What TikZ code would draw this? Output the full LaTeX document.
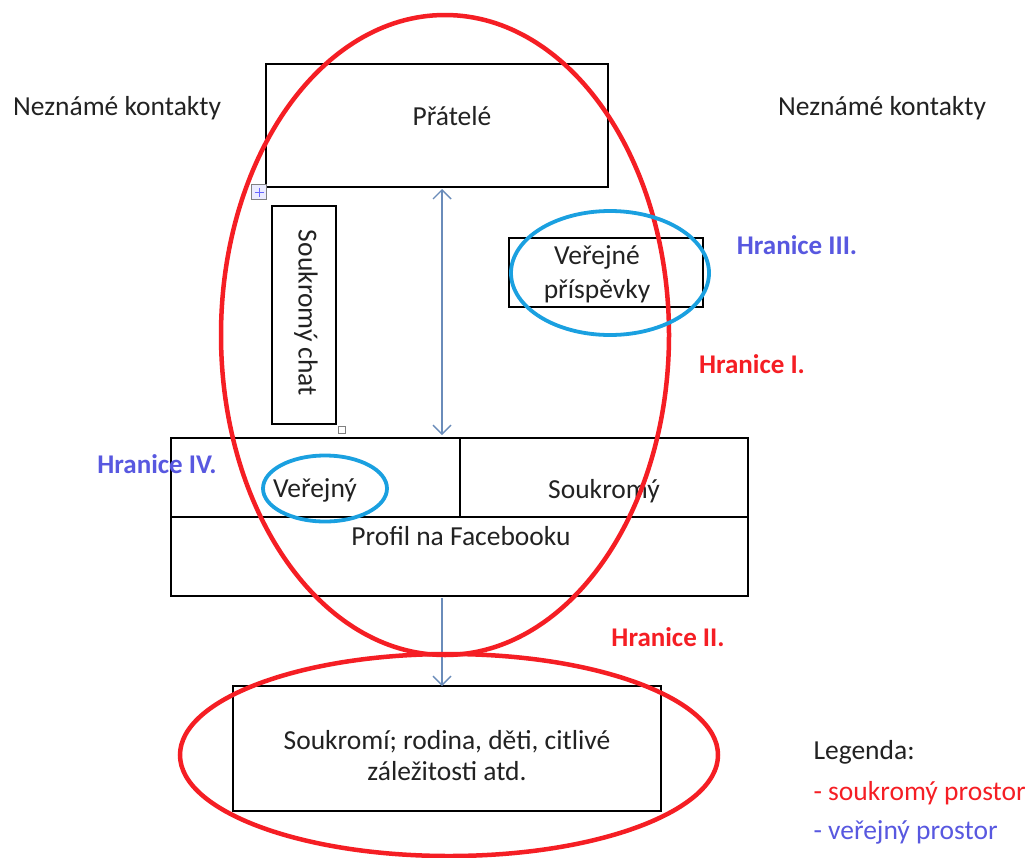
\documentclass[tikz,border=0pt]{standalone}
\usepackage{fontspec}
\setmainfont{Carlito}
\usetikzlibrary{arrows.meta}
\definecolor{redline}{HTML}{F51E24}
\definecolor{blueline}{HTML}{1AA0E0}
\definecolor{hblue}{HTML}{5858E0}
\definecolor{arrowc}{HTML}{6A8CBA}
\definecolor{txt}{HTML}{222222}
\tikzset{
  box/.style={draw=black, line width=1.3pt, inner sep=0pt},
  lbl/.style={font=\fontsize{27.5}{33}\selectfont, text=txt},
  hred/.style={font=\fontsize{27}{32}\selectfont\bfseries, text=redline},
  hblu/.style={font=\fontsize{27}{32}\selectfont\bfseries, text=hblue},
  redell/.style={draw=redline, line width=4.5pt},
  blueell/.style={draw=blueline, line width=3.8pt},
  conn/.style={draw=arrowc, line width=1.4pt, -{Straight Barb[length=9pt,width=18pt,line width=1.4pt]}},
  dconn/.style={draw=arrowc, line width=1.4pt, {Straight Barb[length=9pt,width=18pt,line width=1.4pt]}-{Straight Barb[length=9pt,width=18pt,line width=1.4pt]}},
  handle/.style={draw=gray, line width=0.8pt, fill=white, minimum size=8pt, inner sep=0pt}
}
\begin{document}
\begin{tikzpicture}[x=1pt,y=-1pt]
\useasboundingbox[fill=white] (0,0) rectangle (1033,857);
% labels outside
\node[lbl] (nkl) at (117,108) {Neznámé kontakty};
\node[lbl] (nkr) at (882,108) {Neznámé kontakty};
% boxes
\node[box, minimum width=342pt, minimum height=123pt] (pratele) at (437,125.5) {};
\node[lbl] (pratxt) at (452,116) {Přátelé};
\node[box, minimum width=64pt, minimum height=218pt] (chat) at (304,315) {};
\node[lbl, rotate=-90] (chattxt) at (306,313) {Soukromý chat};
\node[handle, fill=blue!8, minimum size=15pt] (h1) at (259,192) {};
\draw[blue!60, line width=1pt] (h1.center) ++(-4.5,0) -- ++(9,0);
\draw[blue!60, line width=1pt] (h1.center) ++(0,-4.5) -- ++(0,9);
\node[handle, minimum size=7pt] (h2) at (342,430) {};
\node[box, minimum width=194pt, minimum height=69pt] (prisp) at (606,272.5) {};
\node[lbl, align=center] (prisptxt) at (597,274) {Veřejné\\[1pt]příspěvky};
% profile table
\node[box, minimum width=577pt, minimum height=158pt] (profil) at (459.5,517) {};
\coordinate (rowL) at (171,517);
\coordinate (rowR) at (748,517);
\coordinate (vtop) at (460,438);
\coordinate (vbot) at (460,517);
\draw[line width=1.3pt] (rowL) -- (rowR);
\draw[line width=1.3pt] (vtop) -- (vbot);
\node[lbl] (verejny) at (315,490) {Veřejný};
\node[lbl] (soukromy) at (604,491) {Soukromý};
\node[lbl] (fb) at (461,536) {Profil na Facebooku};
% bottom box
\node[box, minimum width=428pt, minimum height=125pt] (souk) at (447,748.5) {};
\node[lbl, align=center] (souktxt) at (447,756) {Soukromí; rodina, děti, citlivé\\[-2pt]záležitosti atd.};
% arrows
\coordinate (a1) at (442,189);
\coordinate (a2) at (442,435);
\draw[dconn] (a1) -- (a2);
\coordinate (b1) at (442,598);
\coordinate (b2) at (442,686);
\draw[conn] (b1) -- (b2);
% ellipses
\draw[redell] (445,335) ellipse [x radius=224pt, y radius=320pt];
\draw[redell] (449,755) ellipse [x radius=269pt, y radius=101pt];
\draw[blueell] (610,273) ellipse [x radius=99pt, y radius=62pt];
\draw[blueell] (325,488.5) ellipse [x radius=62pt, y radius=33pt];
% boundary labels
\node[hblu] (h3) at (797,245) {Hranice III.};
\node[hred] (h1l) at (752,364) {Hranice I.};
\node[hblu] (h4) at (157,464) {Hranice IV.};
\node[hred] (h2l) at (668,637) {Hranice II.};
% legend
\node[lbl, anchor=west] (leg) at (810,752) {Legenda:};
\node[lbl, anchor=west, text=redline] (leg1) at (810,793) {- soukromý prostor};
\node[lbl, anchor=west, text=hblue] (leg2) at (810,832) {- veřejný prostor};
\end{tikzpicture}
\end{document}
